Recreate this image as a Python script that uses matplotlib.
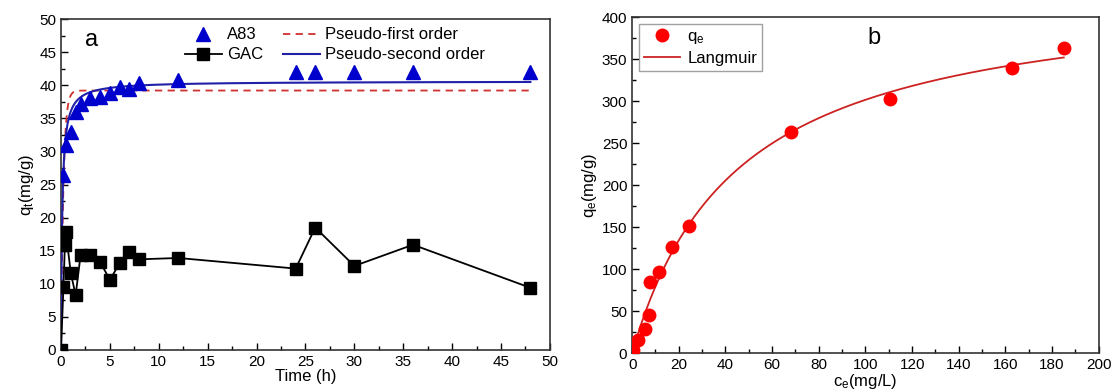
import numpy as np
from matplotlib import pyplot as plt
from matplotlib.ticker import MultipleLocator

plt.rcParams['font.family'] = ['Liberation Sans', 'DejaVu Sans']
plt.rcParams['mathtext.default'] = 'regular'

# panel a: kinetics
a83_time = [0.25, 0.5, 1, 1.5, 2, 3, 4, 5, 6, 7, 8, 12, 24, 26, 30, 36, 48]
a83_qt = [26.5, 31.0, 33.0, 36.0, 37.2, 38.0, 38.2, 38.8, 39.7, 39.5, 40.3, 40.8, 42.0, 42.0, 42.0, 42.0, 42.0]
gac_time = [0, 0.25, 0.4, 0.5, 1, 1.5, 2, 3, 4, 5, 6, 7, 8, 12, 24, 26, 30, 36, 48]
gac_qt = [0, 9.5, 15.9, 17.9, 11.6, 8.3, 14.3, 14.3, 13.3, 10.6, 13.1, 14.8, 13.7, 13.9, 12.3, 18.5, 12.7, 15.9, 9.4]

# fitted kinetic parameters
pfo_qe, pfo_k = 39.2, 4.0
pso_qe, pso_k = 40.6, 0.195

# panel b: isotherm
ce = [0.5, 2.7, 5.6, 7.4, 7.7, 11.7, 17.0, 24.5, 68.0, 110.5, 162.9, 185.0]
qe = [3.0, 15.5, 29.0, 45.0, 85.0, 97.0, 126.0, 151.0, 263.5, 303.0, 339.7, 362.7]
lang_qm, lang_k = 438.0, 0.0221

fig = plt.figure(figsize=(11.11, 3.89), dpi=100)
ax1 = fig.add_axes([0.0549, 0.1003, 0.4401, 0.8507])
ax2 = fig.add_axes([0.569, 0.0925, 0.420, 0.8635])

t = np.linspace(0, 48, 800)
ax1.plot(t, pfo_qe * (1 - np.exp(-pfo_k * t)), '--', color='#d03030', lw=1.3,
         dashes=(4, 3), label='Pseudo-first order', zorder=2)
ax1.plot(t, pso_k * pso_qe**2 * t / (1 + pso_k * pso_qe * t), '-', color='#2020a8',
         lw=1.5, label='Pseudo-second order', zorder=3)
ax1.plot(a83_time, a83_qt, '^', color='#0000cc', ms=10, ls='none', label='A83', zorder=4)
ax1.plot(gac_time, gac_qt, 's-', color='black', mfc='black', ms=8, lw=1.3, label='GAC', zorder=4)

ax1.set_xlim(0, 50)
ax1.set_ylim(0, 50)
ax1.xaxis.set_major_locator(MultipleLocator(5))
ax1.xaxis.set_minor_locator(MultipleLocator(2.5))
ax1.yaxis.set_major_locator(MultipleLocator(5))
ax1.yaxis.set_minor_locator(MultipleLocator(2.5))
ax1.set_xlabel('Time (h)', fontsize=12, labelpad=0)
ax1.set_ylabel('q$_t$(mg/g)', fontsize=12, labelpad=2)
ax1.text(0.05, 0.92, 'a', transform=ax1.transAxes, fontsize=17)

h, l = ax1.get_legend_handles_labels()
order = [2, 3, 0, 1]
ax1.legend([h[i] for i in order], [l[i] for i in order], ncol=2, frameon=False,
           loc='upper center', bbox_to_anchor=(0.56, 1.02), fontsize=12,
           handlelength=2.2, columnspacing=1.2, labelspacing=0.3, handletextpad=0.3)

c = np.linspace(0, 185, 400)
ax2.plot(c, lang_qm * lang_k * c / (1 + lang_k * c), '-', color='#cc2222', lw=1.3,
         label='Langmuir', zorder=2)
ax2.plot(ce, qe, 'o', color='#ff0000', ms=9, ls='none', label='q$_e$', zorder=3)
ax2.set_xlim(0, 200)
ax2.set_ylim(0, 400)
ax2.xaxis.set_major_locator(MultipleLocator(20))
ax2.xaxis.set_minor_locator(MultipleLocator(10))
ax2.yaxis.set_major_locator(MultipleLocator(50))
ax2.yaxis.set_minor_locator(MultipleLocator(25))
ax2.set_xlabel('c$_e$(mg/L)', fontsize=12, labelpad=0)
ax2.set_ylabel('q$_e$(mg/g)', fontsize=12, labelpad=2)
ax2.text(0.505, 0.92, 'b', transform=ax2.transAxes, fontsize=17)

h, l = ax2.get_legend_handles_labels()
ax2.legend(h[::-1], l[::-1], loc='upper left', fontsize=12, fancybox=False,
           edgecolor='#888888', borderaxespad=0.4, handlelength=2.2,
           labelspacing=0.3, handletextpad=0.4, borderpad=0.3)

for ax in (ax1, ax2):
    ax.tick_params(which='both', direction='in', top=False, right=False, labelsize=11)
    ax.tick_params(which='major', length=5, width=1)
    ax.tick_params(which='minor', length=3, width=1)
    for s in ax.spines.values():
        s.set_linewidth(1.2)
        s.set_color('#333333')

fig.savefig('out.png', dpi=100)
